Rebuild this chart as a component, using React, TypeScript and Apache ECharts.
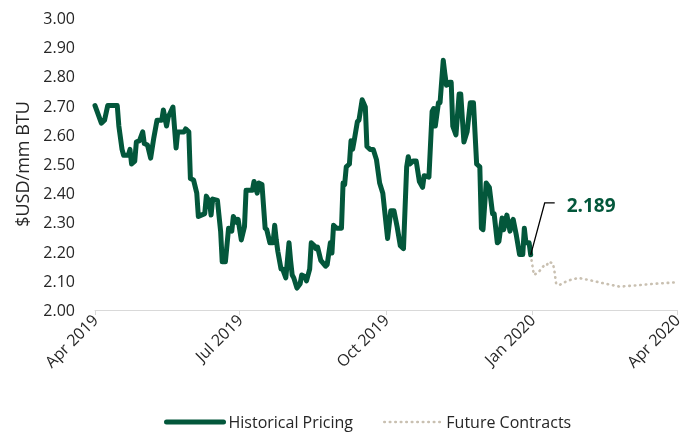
import React, { useEffect, useRef } from "react";
import * as echarts from "echarts";

const histDates = [
  "2019-04-01","2019-04-05","2019-04-07","2019-04-09","2019-04-15","2019-04-16","2019-04-18","2019-04-19","2019-04-22","2019-04-23",
  "2019-04-24","2019-04-26","2019-04-27","2019-04-29","2019-05-01","2019-05-02","2019-05-04","2019-05-06","2019-05-08","2019-05-10",
  "2019-05-13","2019-05-14","2019-05-16","2019-05-17","2019-05-20","2019-05-22","2019-05-23","2019-05-27","2019-05-28","2019-05-30",
  "2019-05-31","2019-06-02","2019-06-04","2019-06-05","2019-06-09","2019-06-10","2019-06-12","2019-06-13","2019-06-14","2019-06-17",
  "2019-06-19","2019-06-20","2019-06-22","2019-06-24","2019-06-26","2019-06-27","2019-06-29","2019-06-30","2019-07-02","2019-07-04",
  "2019-07-05","2019-07-09","2019-07-10","2019-07-12","2019-07-13","2019-07-15","2019-07-17","2019-07-18","2019-07-20","2019-07-22",
  "2019-07-23","2019-07-24","2019-07-25","2019-07-27","2019-07-28","2019-07-30","2019-08-01","2019-08-02","2019-08-03","2019-08-04",
  "2019-08-06","2019-08-08","2019-08-09","2019-08-11","2019-08-12","2019-08-14","2019-08-15","2019-08-17","2019-08-18","2019-08-19",
  "2019-08-21","2019-08-24","2019-08-25","2019-08-27","2019-08-28","2019-08-29","2019-08-31","2019-09-03","2019-09-04","2019-09-05",
  "2019-09-06","2019-09-08","2019-09-09","2019-09-10","2019-09-11","2019-09-13","2019-09-14","2019-09-16","2019-09-18","2019-09-19",
  "2019-09-21","2019-09-23","2019-09-25","2019-09-27","2019-09-29","2019-10-02","2019-10-04","2019-10-06","2019-10-08","2019-10-10",
  "2019-10-12","2019-10-14","2019-10-15","2019-10-16","2019-10-18","2019-10-20","2019-10-22","2019-10-24","2019-10-25","2019-10-28",
  "2019-10-30","2019-10-31","2019-11-01","2019-11-03","2019-11-04","2019-11-06","2019-11-07","2019-11-08","2019-11-10","2019-11-11",
  "2019-11-12","2019-11-14","2019-11-16","2019-11-17","2019-11-19","2019-11-21","2019-11-23","2019-11-25","2019-11-27","2019-11-29",
  "2019-11-30","2019-12-01","2019-12-03","2019-12-05","2019-12-07","2019-12-08","2019-12-10","2019-12-11","2019-12-13","2019-12-14",
  "2019-12-16","2019-12-18","2019-12-19","2019-12-20","2019-12-22","2019-12-24","2019-12-26","2019-12-27","2019-12-28","2019-12-30",
  "2019-12-31"
];
const histValues = [
  2.70, 2.64, 2.65, 2.70, 2.70, 2.63, 2.55, 2.53, 2.53, 2.55,
  2.50, 2.51, 2.575, 2.58, 2.61, 2.57, 2.565, 2.52, 2.59, 2.65,
  2.65, 2.685, 2.63, 2.66, 2.695, 2.555, 2.61, 2.61, 2.62, 2.61,
  2.45, 2.445, 2.40, 2.32, 2.33, 2.39, 2.37, 2.325, 2.38, 2.375,
  2.27, 2.165, 2.165, 2.28, 2.27, 2.32, 2.30, 2.31, 2.24, 2.285,
  2.41, 2.41, 2.44, 2.40, 2.435, 2.43, 2.28, 2.275, 2.23, 2.23,
  2.29, 2.24, 2.20, 2.14, 2.14, 2.11, 2.23, 2.17, 2.12, 2.11,
  2.075, 2.09, 2.12, 2.115, 2.10, 2.14, 2.23, 2.22, 2.21, 2.215,
  2.17, 2.15, 2.155, 2.23, 2.195, 2.29, 2.28, 2.28, 2.435, 2.43,
  2.49, 2.50, 2.58, 2.55, 2.58, 2.645, 2.65, 2.72, 2.695, 2.56,
  2.55, 2.55, 2.515, 2.435, 2.40, 2.245, 2.34, 2.34, 2.285, 2.22,
  2.21, 2.49, 2.525, 2.50, 2.51, 2.51, 2.44, 2.42, 2.46, 2.455,
  2.68, 2.69, 2.63, 2.71, 2.71, 2.855, 2.81, 2.77, 2.78, 2.78,
  2.63, 2.60, 2.74, 2.74, 2.575, 2.61, 2.71, 2.71, 2.50, 2.49,
  2.28, 2.275, 2.435, 2.42, 2.33, 2.33, 2.23, 2.235, 2.315, 2.275,
  2.325, 2.27, 2.30, 2.31, 2.255, 2.19, 2.19, 2.28, 2.23, 2.23,
  2.189
];

const futureDates = [
  "2019-12-31","2020-01-02","2020-01-05","2020-01-08","2020-01-10","2020-01-11","2020-01-14","2020-01-15","2020-01-16","2020-01-18",
  "2020-01-23","2020-01-30","2020-02-08","2020-02-16","2020-02-25","2020-03-08","2020-03-18","2020-04-01"
];
const futureValues = [
  2.189, 2.12, 2.13, 2.15, 2.15, 2.165, 2.16, 2.13, 2.09, 2.085,
  2.10, 2.11, 2.10, 2.09, 2.08, 2.085, 2.09, 2.095
];

const tickDates = ["2019-04-01", "2019-07-01", "2019-10-01", "2020-01-01", "2020-04-01"];
const tickLabels = ["Apr 2019", "Jul 2019", "Oct 2019", "Jan 2020", "Apr 2020"];

const yMin = 2.0;
const yMax = 3.0;
const yStep = 0.1;

const seriesNames = ["Historical Pricing", "Future Contracts"];
const yAxisTitle = "$USD/mm BTU";

const GREEN = "#03573b";
const DOT = "#c9c0b1";
const TEXT = "#262626";
const FONT = "'Open Sans', 'Noto Sans', sans-serif";

const toTime = (s: string) => {
  const [y, m, d] = s.split("-").map(Number);
  return Date.UTC(y, m - 1, d);
};

export default function App() {
  const ref = useRef<HTMLDivElement>(null);

  useEffect(() => {
    if (!ref.current) return;
    const chart = echarts.init(ref.current, undefined, { renderer: "svg" });
    const tickTimes = tickDates.map(toTime);

    chart.setOption({
      animation: false,
      textStyle: { fontFamily: FONT },
      grid: {
        left: 95,
        right: 7,
        top: 18,
        bottom: 123,
        containLabel: false,
        outerBoundsMode: "none",
      },
      legend: {
        data: [
          { name: seriesNames[0], lineStyle: { width: 5, color: GREEN, cap: "round" } },
          { name: seriesNames[1], lineStyle: { width: 2.6, color: DOT, type: [0.5, 5], cap: "round" } },
        ],
        left: 159,
        top: 409,
        itemWidth: 57,
        itemHeight: 14,
        itemGap: 30,
        itemStyle: { opacity: 0 },
        textStyle: { fontSize: 16, color: TEXT, fontFamily: FONT },
      },
      xAxis: {
        type: "value",
        min: tickTimes[0],
        max: tickTimes[tickTimes.length - 1],
        axisLine: { show: true, lineStyle: { color: "#d9d9d9", width: 1 } },
        axisTick: {
          show: true,
          customValues: tickTimes,
          length: 5,
          lineStyle: { color: "#d9d9d9" },
        },
        splitLine: { show: false },
        axisLabel: {
          customValues: tickTimes,
          rotate: 45,
          fontSize: 16,
          color: TEXT,
          fontFamily: FONT,
          margin: 7,
          hideOverlap: false,
          showMinLabel: true,
          showMaxLabel: true,
          formatter: (v: number) => {
            let best = 0;
            for (let i = 1; i < tickTimes.length; i++) {
              if (Math.abs(tickTimes[i] - v) < Math.abs(tickTimes[best] - v)) best = i;
            }
            return tickLabels[best];
          },
        },
      },
      yAxis: {
        type: "value",
        min: yMin,
        max: yMax,
        interval: yStep,
        name: yAxisTitle,
        nameLocation: "middle",
        nameGap: 64,
        nameTextStyle: { fontSize: 18, color: TEXT, fontFamily: FONT },
        axisLine: { show: false },
        axisTick: { show: false },
        splitLine: { show: false },
        axisLabel: {
          fontSize: 16,
          color: TEXT,
          fontFamily: FONT,
          margin: 20,
          formatter: (v: number) => v.toFixed(2),
        },
      },
      series: [
        {
          name: seriesNames[0],
          type: "line",
          data: histDates.map((d, i) => [toTime(d), histValues[i]]),
          symbol: "none",
          showSymbol: false,
          color: GREEN,
          lineStyle: { color: GREEN, width: 5, join: "round", cap: "round" },
          z: 3,
        },
        {
          name: seriesNames[1],
          type: "line",
          data: futureDates.map((d, i) => [toTime(d), futureValues[i]]),
          symbol: "none",
          showSymbol: false,
          color: DOT,
          lineStyle: { color: DOT, width: 2.6, type: [0.5, 5], cap: "round" },
          z: 2,
        },
      ],
    });

    const lastIdx = histValues.length - 1;
    const p = chart.convertToPixel({ xAxisIndex: 0, yAxisIndex: 0 }, [
      toTime(histDates[lastIdx]),
      histValues[lastIdx],
    ]) as number[];
    if (p && isFinite(p[0]) && isFinite(p[1])) {
      chart.setOption({
        graphic: [
          {
            type: "polyline",
            shape: {
              points: [
                [p[0], p[1]],
                [p[0] + 14, p[1] - 52],
                [p[0] + 24, p[1] - 52],
              ],
            },
            style: { stroke: "#000", lineWidth: 1.3, fill: "none" },
            z: 10,
          },
          {
            type: "text",
            x: p[0] + 36,
            y: p[1] - 50,
            style: {
              text: histValues[lastIdx].toFixed(3),
              fill: GREEN,
              font: `bold 19px ${FONT}`,
              verticalAlign: "middle",
              align: "left",
            },
            z: 10,
          },
        ],
      });
    }

    return () => chart.dispose();
  }, []);

  return (
    <div
      ref={ref}
      style={{ position: "fixed", left: 0, top: 0, width: 684, height: 433 }}
    />
  );
}
